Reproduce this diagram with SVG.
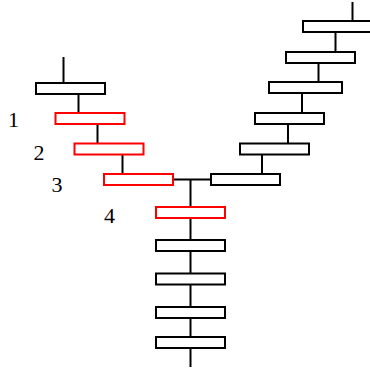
<svg xmlns="http://www.w3.org/2000/svg" width="370" height="368" viewBox="0 0 370 368">
<style>
.n{fill:#fff;stroke:#000;stroke-width:2}
.r{fill:#fff;stroke:#f00;stroke-width:2}
.c{stroke:#000;stroke-width:2;fill:none}
.t{font-family:"Liberation Serif",serif;font-size:22px;fill:#000}
</style>
<rect width="370" height="368" fill="#fff"/>
<g id="connectors" class="c">
<line x1="63.5" y1="57" x2="63.5" y2="83"/>
<line x1="78.5" y1="94" x2="78.5" y2="113"/>
<line x1="97.5" y1="124" x2="97.5" y2="143"/>
<line x1="122.5" y1="155" x2="122.5" y2="174"/>
<line x1="174" y1="179.5" x2="211" y2="179.5"/>
<line x1="190.5" y1="179.5" x2="190.5" y2="367"/>
<line x1="352.5" y1="2" x2="352.5" y2="21"/>
<line x1="335.5" y1="32" x2="335.5" y2="52"/>
<line x1="318.5" y1="63" x2="318.5" y2="82"/>
<line x1="302" y1="93" x2="302" y2="113"/>
<line x1="288" y1="124" x2="288" y2="143"/>
<line x1="262" y1="155" x2="262" y2="174"/>
</g>
<g id="L0"><rect class="n" x="36" y="83" width="69" height="11"/></g>
<g id="L1"><rect class="r" x="55.5" y="113" width="69" height="11"/></g>
<g id="L2"><rect class="r" x="74.5" y="143.5" width="69" height="11"/></g>
<g id="L3"><rect class="r" x="104" y="174" width="69" height="11"/></g>
<g id="R1"><rect class="n" x="303" y="21" width="69" height="11"/></g>
<g id="R2"><rect class="n" x="286" y="52" width="69" height="11"/></g>
<g id="R3"><rect class="n" x="269" y="82" width="73" height="11"/></g>
<g id="R4"><rect class="n" x="255" y="113" width="69" height="11"/></g>
<g id="R5"><rect class="n" x="240" y="143.5" width="69" height="11"/></g>
<g id="R6"><rect class="n" x="211" y="174" width="69" height="11"/></g>
<g id="B1"><rect class="r" x="156" y="207" width="69" height="11"/></g>
<g id="B2"><rect class="n" x="156" y="240" width="69" height="11"/></g>
<g id="B3"><rect class="n" x="156" y="273.5" width="69" height="11"/></g>
<g id="B4"><rect class="n" x="156" y="307" width="69" height="11"/></g>
<g id="B5"><rect class="n" x="156" y="337" width="69" height="11"/></g>
<g id="labels">
<text class="t" x="8" y="127">1</text>
<text class="t" x="33.5" y="160">2</text>
<text class="t" x="51.5" y="192">3</text>
<text class="t" x="104" y="223">4</text>
</g>
</svg>
